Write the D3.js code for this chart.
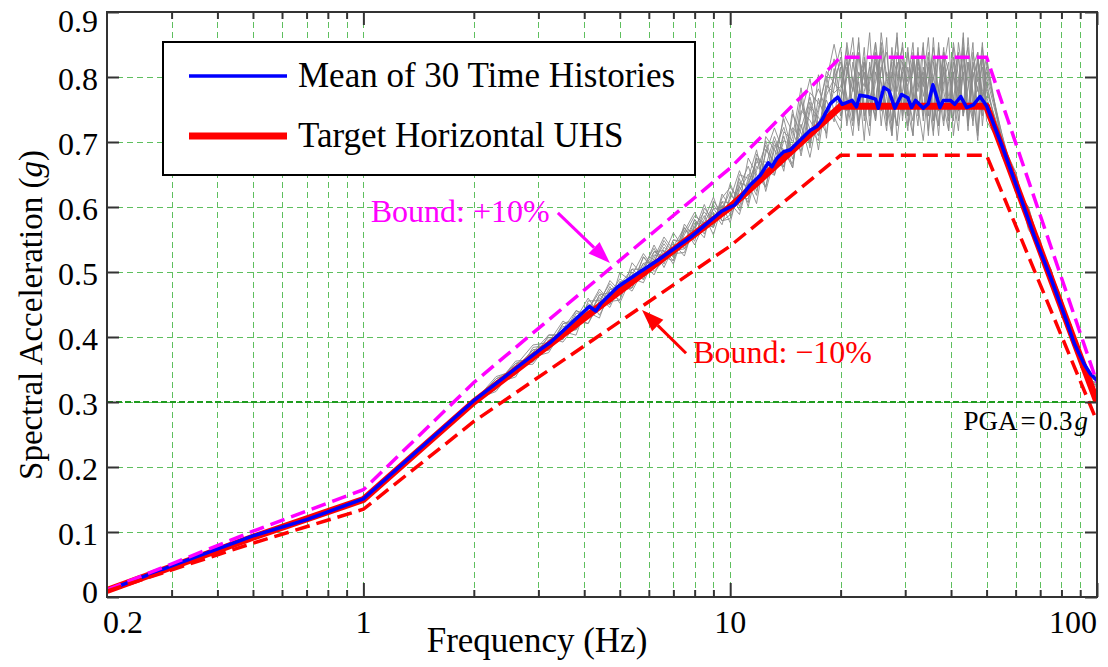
<!DOCTYPE html>
<html>
<head>
<meta charset="utf-8">
<script src="https://cdn.jsdelivr.net/npm/d3@7"></script>
<style>
  body { margin: 0; background: #fff; }
</style>
</head>
<body>
<svg id="chart" width="1108" height="667" style="font-family: 'Liberation Serif', 'DejaVu Serif', serif;"></svg>
<script>
// Target horizontal uniform hazard spectrum (frequency in Hz, spectral acceleration in g)
const targetFreq = [0.2, 0.5, 1, 2, 10, 20, 50, 100];
const targetSA   = [0.010, 0.092, 0.150, 0.300, 0.600, 0.755, 0.755, 0.300];

// Mean spectrum of the 30 spectrum-matched time histories
const meanFreq = [0.2, 0.3, 0.5, 0.7, 1, 2, 2.37, 3.04, 3.24, 4.13, 4.30, 4.45, 4.93, 5.6, 6.35, 7.5, 7.82, 9.45, 10.27,
  11.34, 12.08, 12.7, 13.0, 13.41, 13.99, 14.59, 15.53, 16.53, 17.25, 17.8, 18.76, 19.65,
  20.2, 20.84, 21.5, 22.1, 22.56, 23.64, 24.9, 25.33, 26.24, 27.07, 28.11, 29.32, 30.5, 31.22, 32.02,
  33.61, 34.69, 35.7, 37.31, 38.11, 39.91, 40.93, 42.5, 44.14, 46.04, 47.99, 50.06,
  55, 60, 67.4, 74.9, 82.2, 86.7, 92.3, 96, 100];
const meanSA = [0.010, 0.048, 0.094, 0.119, 0.151, 0.302, 0.334, 0.381, 0.392, 0.447, 0.440, 0.452, 0.477, 0.498, 0.518, 0.547, 0.554, 0.593, 0.603,
  0.634, 0.649, 0.668, 0.662, 0.675, 0.685, 0.688, 0.703, 0.718, 0.724, 0.734, 0.759, 0.769,
  0.758, 0.761, 0.764, 0.754, 0.772, 0.770, 0.766, 0.752, 0.784, 0.779, 0.752, 0.773, 0.768, 0.753, 0.764,
  0.752, 0.759, 0.788, 0.753, 0.764, 0.764, 0.758, 0.770, 0.753, 0.757, 0.770, 0.755,
  0.695, 0.636, 0.556, 0.490, 0.428, 0.390, 0.358, 0.343, 0.333];

// Frequencies at which the individual response spectra are sampled
const traceFreq = [0.2, 1, 2,
  2.3, 2.6, 2.9, 3.2, 3.5, 3.8, 4.1, 4.4, 4.7, 5.0, 5.4, 5.8, 6.2, 6.6, 7.0, 7.5, 8.0, 8.5, 9.0, 9.5,
  10, 10.6, 11.2, 11.8, 12.5, 13.2, 14, 14.8, 15.6, 16.5, 17.4, 18.3, 19.2,
  20, 20.8, 21.6, 22.4, 23.2, 24, 24.9, 25.8, 26.7, 27.6, 28.5, 29.5, 30.5, 31.5, 32.5, 33.6, 34.7, 35.8,
  37, 38.2, 39.4, 40.6, 41.9, 43.2, 44.5, 45.9, 47.3, 48.7, 50,
  55, 60, 65, 70, 75, 80, 85, 90, 95, 100];

// Individual spectra, as percent departure from the target at each sampled frequency
const traceDev = [
  [0,1,0, 2,-1,3,-2,4,1,-3,2,5,-1,3,-2,4,0,-3,2,5,1,-2,3, -2,4,1,6,-3,5,2,-4,7,3,-2,8,14,
   6,-3,9,2,12,-4,7,0,14,-6,5,10,-2,8,3,13,-5,6,1,11,-3,9,2,15,-4,7,0,10,3, 2,-2,3,1,-1,2,-2,1,3,10],
  [1,0,1, -2,3,0,-3,2,5,-1,4,-2,3,1,-3,2,6,0,-2,4,-1,3,1, 4,-3,2,-5,6,1,-2,9,-3,5,8,2,-1,
   -5,8,3,11,-2,6,13,-1,4,9,-7,3,12,0,7,-3,10,4,-6,8,14,-2,5,11,-4,6,9,-1,2, -1,3,-2,2,1,-3,2,0,4,12],
  [-1,0,0, 3,1,-2,4,-1,2,6,-3,1,4,-2,5,-1,2,-4,3,1,6,-2,2, -1,5,-4,3,7,-2,4,1,10,-3,6,-1,5,
   10,1,-6,7,4,15,-3,8,2,-5,11,6,-2,9,0,-7,5,12,3,-4,7,1,10,-2,4,13,-5,3,8, 3,-1,1,-2,2,3,-1,2,1,8],
  [0,-1,1, 1,-3,4,0,3,-2,2,5,-1,-3,4,1,6,-2,3,-1,2,-3,5,0, 6,-2,3,8,-4,2,9,-1,4,-5,3,10,6,
   3,12,-2,5,-7,9,1,11,-3,6,14,-1,4,-6,10,2,8,-3,13,0,-5,6,11,-2,9,3,-6,12,4, 0,2,-3,1,3,-1,0,2,-2,9],
  [0,0,-1, -1,2,-3,1,5,-2,3,0,4,-4,2,6,-1,3,-2,4,-3,1,4,-1, 2,7,-1,4,0,6,-3,8,2,-2,11,-4,9,
   -2,7,11,-4,3,8,-1,13,5,-3,9,2,-5,11,4,7,-2,14,-1,5,9,-6,3,12,1,-3,7,10,-2, 2,1,-1,3,-2,1,2,-1,2,11],
  [1,1,0, 4,0,2,-2,1,-4,5,2,-2,6,0,3,-3,1,5,-2,0,3,-4,2, -4,3,6,-2,5,9,1,-3,6,12,0,4,-2,
   8,-4,4,13,0,-6,10,5,-2,12,1,7,-4,3,11,-1,9,-5,4,10,2,-3,13,6,-1,8,11,-4,5, -2,1,2,-1,1,0,3,-2,3,13],
  [0,0,1, -3,2,5,1,-2,3,-1,4,2,-3,6,-1,1,4,-2,3,6,-1,2,-3, 3,-1,8,2,-3,4,7,-2,3,8,-1,6,11,
   1,10,-3,6,9,-2,5,12,-4,7,3,13,-1,-6,8,4,11,-3,2,7,-5,10,4,-1,14,2,-7,6,10, 1,-2,2,-1,0,2,-1,1,2,7],
  [-1,1,0, 2,-2,1,3,-3,0,4,-1,3,1,-2,2,5,-3,1,4,-2,5,0,3, 1,-4,2,5,3,-1,10,4,-2,6,2,-3,8,
   12,-1,6,-5,10,3,-3,8,11,0,-4,9,5,13,-2,6,-6,9,3,12,-1,7,-3,10,5,-2,11,1,7, 3,0,1,2,-2,3,1,-1,0,10],
  [0,-1,0, 0,4,-1,2,-2,4,1,-4,3,2,-1,5,-2,-1,3,0,4,-2,3,-2, -3,2,4,-1,8,0,5,-4,9,1,-3,7,4,
   4,9,-2,14,-3,5,9,2,-5,10,7,-2,11,3,-4,12,0,6,10,-3,5,12,-1,7,-5,9,3,13,0, -1,2,0,-2,3,-1,1,1,3,12],
  [1,0,0, -2,1,3,-1,4,2,-3,1,6,0,-2,3,1,5,-1,-3,2,4,-1,4, 5,0,-2,6,2,7,-1,3,12,-2,4,9,0,
   -3,6,14,1,7,-1,11,-4,7,3,15,-3,8,1,12,-2,5,10,-4,8,0,13,6,-2,9,-4,10,2,6, 2,-1,3,0,-1,2,0,-2,1,9],
  [0,1,-1, 3,-1,2,4,0,-2,2,6,-1,3,-3,1,4,2,-3,5,-1,2,6,-2, -2,6,3,-3,9,4,-2,5,1,7,-5,5,7,
   9,2,-4,10,6,-2,13,4,0,-6,8,12,2,-3,9,5,14,0,-4,11,7,2,-5,8,12,0,4,-2,9, 1,3,-2,2,1,-2,3,0,2,14],
  [0,0,0, 1,3,-2,2,-1,5,0,3,-3,2,4,-2,3,0,2,-4,3,1,-2,5, 0,3,-3,7,1,-2,6,2,-1,9,5,1,3,
   0,13,5,-3,9,1,-2,15,6,2,-4,8,4,10,-1,8,2,-6,12,3,-2,7,0,14,-3,11,5,8,-3, 0,1,1,-1,2,1,-3,2,1,11]
];

// Tolerance band around the target, percent
const boundPct = 10;
const pga = 0.3;

// Axis ticks
const yTicks = [0, 0.1, 0.2, 0.3, 0.4, 0.5, 0.6, 0.7, 0.8, 0.9];
const yTickLabels = ["0", "0.1", "0.2", "0.3", "0.4", "0.5", "0.6", "0.7", "0.8", "0.9"];
const xMajorTicks = [1, 10, 100];
const xMinorTicks = [0.3, 0.4, 0.5, 0.6, 0.7, 0.8, 0.9, 2, 3, 4, 5, 6, 7, 8, 9, 20, 30, 40, 50, 60, 70, 80, 90];
const xTickValues = [0.2, 1, 10, 100];
const xTickLabels = ["0.2", "1", "10", "100"];

const FONT = "'Liberation Serif', 'DejaVu Serif', serif";
const svg = d3.select("#chart");
const L = 107, R = 1097, T = 12, B = 597;
const x = d3.scaleLog().domain([0.2, 100]).range([L, R]);
const y = d3.scaleLinear().domain([0, 0.9]).range([B, T]);

// --- grid ---
const grid = svg.append("g");
grid.selectAll("line.vg").data(xMinorTicks.concat([1, 10])).join("line")
  .attr("x1", d => Math.round(x(d)) + 0.5).attr("x2", d => Math.round(x(d)) + 0.5)
  .attr("y1", T).attr("y2", B)
  .attr("stroke", "#5fbf5f").attr("stroke-width", 1).attr("stroke-dasharray", "6,4");
grid.selectAll("line.hg").data(yTicks.filter(v => v > 0 && v < 0.9)).join("line")
  .attr("x1", L).attr("x2", R)
  .attr("y1", d => Math.round(y(d)) + 0.5).attr("y2", d => Math.round(y(d)) + 0.5)
  .attr("stroke", "#5fbf5f").attr("stroke-width", 1).attr("stroke-dasharray", "6,4");

// PGA reference line
svg.append("line")
  .attr("x1", L).attr("x2", R).attr("y1", y(pga)).attr("y2", y(pga))
  .attr("stroke", "#1f9b1f").attr("stroke-width", 2).attr("stroke-dasharray", "6,3");

const line = d3.line().x(d => x(d[0])).y(d => y(d[1]));
const targetPts = targetFreq.map((f, i) => [f, targetSA[i]]);

// interpolate the target (linear in log-frequency)
function targetAt(f) {
  for (let i = 0; i < targetFreq.length - 1; i++) {
    const f0 = targetFreq[i], f1 = targetFreq[i + 1];
    if (f >= f0 && f <= f1) {
      const t = Math.log(f / f0) / Math.log(f1 / f0);
      return targetSA[i] + t * (targetSA[i + 1] - targetSA[i]);
    }
  }
  return targetSA[targetSA.length - 1];
}

// --- individual spectra ---
svg.append("clipPath").attr("id", "plotclip")
  .append("rect").attr("x", L).attr("y", T).attr("width", R - L).attr("height", B - T);
const plot = svg.append("g").attr("clip-path", "url(#plotclip)");

plot.append("g").selectAll("path").data(traceDev).join("path")
  .attr("d", dev => line(traceFreq.map((f, i) => [f, targetAt(f) * (1 + dev[i] / 100)])))
  .attr("fill", "none").attr("stroke", "#8a8a8a").attr("stroke-width", 0.9);

// target spectrum
plot.append("path").attr("d", line(targetPts))
  .attr("fill", "none").attr("stroke", "#ff0000").attr("stroke-width", 7).attr("stroke-linejoin", "round");

// mean spectrum
plot.append("path").attr("d", line(meanFreq.map((f, i) => [f, meanSA[i]])))
  .attr("fill", "none").attr("stroke", "#0000ff").attr("stroke-width", 3.5).attr("stroke-linejoin", "round");

// +/- bounds
plot.append("path").attr("d", line(targetPts.map(d => [d[0], d[1] * (1 + boundPct / 100)])))
  .attr("fill", "none").attr("stroke", "#ff00ff").attr("stroke-width", 3.5).attr("stroke-dasharray", "15,7");
plot.append("path").attr("d", line(targetPts.map(d => [d[0], d[1] * (1 - boundPct / 100)])))
  .attr("fill", "none").attr("stroke", "#ff0000").attr("stroke-width", 3.5).attr("stroke-dasharray", "15,7");

// --- axes (ticks pointing inward on all four sides) ---
function styleAxis(g) {
  g.select(".domain").remove();
  g.selectAll(".tick line").attr("stroke", "#333").attr("stroke-width", 2);
  g.selectAll(".tick text").remove();
}
svg.append("g").attr("transform", `translate(0,${B})`)
  .call(d3.axisBottom(x).tickValues(xMinorTicks).tickSize(-7).tickFormat("")).call(styleAxis);
svg.append("g").attr("transform", `translate(0,${B})`)
  .call(d3.axisBottom(x).tickValues(xMajorTicks).tickSize(-14).tickFormat("")).call(styleAxis);
svg.append("g").attr("transform", `translate(0,${T})`)
  .call(d3.axisTop(x).tickValues(xMinorTicks).tickSize(-7).tickFormat("")).call(styleAxis);
svg.append("g").attr("transform", `translate(0,${T})`)
  .call(d3.axisTop(x).tickValues(xMajorTicks).tickSize(-13).tickFormat("")).call(styleAxis);
svg.append("g").attr("transform", `translate(${L},0)`)
  .call(d3.axisLeft(y).tickValues(yTicks).tickSize(-12).tickFormat("")).call(styleAxis);
svg.append("g").attr("transform", `translate(${R},0)`)
  .call(d3.axisRight(y).tickValues(yTicks).tickSize(-12).tickFormat("")).call(styleAxis);

svg.append("rect").attr("x", L).attr("y", T).attr("width", R - L).attr("height", B - T)
  .attr("fill", "none").attr("stroke", "#333").attr("stroke-width", 2);

// all text in one serif family
const texts = svg.append("g").attr("font-family", FONT).attr("fill", "#000");

// tick labels
texts.append("g").selectAll("text").data(yTicks).join("text")
  .attr("x", 98)
  .attr("y", (d, i) => y(d) + (i === yTicks.length - 1 ? 20 : i === 0 ? 6 : 13))
  .attr("text-anchor", "end").attr("font-size", 32)
  .text((d, i) => yTickLabels[i]);

texts.append("g").selectAll("text").data(xTickValues).join("text")
  .attr("x", (d, i) => i === 0 ? x(d) - 4 : x(d))
  .attr("y", 633)
  .attr("text-anchor", (d, i) => i === 0 ? "start" : i === xTickValues.length - 1 ? "end" : "middle")
  .attr("font-size", 32)
  .text((d, i) => xTickLabels[i]);

// axis titles
texts.append("text").attr("x", 537).attr("y", 652).attr("text-anchor", "middle")
  .attr("font-size", 35).text("Frequency (Hz)");
const yl = texts.append("text").attr("transform", "translate(42,315) rotate(-90)")
  .attr("text-anchor", "middle").attr("font-size", 33);
yl.append("tspan").text("Spectral Acceleration (");
yl.append("tspan").attr("font-style", "italic").text("g");
yl.append("tspan").text(")");

// --- legend ---
const lg = svg.append("g");
lg.append("rect").attr("x", 163).attr("y", 42).attr("width", 532).attr("height", 133)
  .attr("fill", "#fff").attr("stroke", "#000").attr("stroke-width", 2);
const legendItems = [
  { label: "Mean of 30 Time Histories", color: "#0000ff", width: 3.5, y: 76 },
  { label: "Target Horizontal UHS", color: "#ff0000", width: 7, y: 136 }
];
legendItems.forEach(it => {
  lg.append("line").attr("x1", 189).attr("x2", 287).attr("y1", it.y).attr("y2", it.y)
    .attr("stroke", it.color).attr("stroke-width", it.width);
  lg.append("text").attr("x", 298).attr("y", it.y + 11).attr("font-family", FONT)
    .attr("font-size", 35).attr("fill", "#000").text(it.label);
});

// --- annotations ---
function arrow(f0, v0, f1, v1, color) {
  const x0 = x(f0), y0 = y(v0), x1 = x(f1), y1 = y(v1);
  const a = Math.atan2(y1 - y0, x1 - x0);
  const hl = 22, hw = 8;
  const bx = x1 - hl * Math.cos(a), by = y1 - hl * Math.sin(a);
  svg.append("line").attr("x1", x0).attr("y1", y0).attr("x2", bx).attr("y2", by)
    .attr("stroke", color).attr("stroke-width", 3);
  svg.append("path")
    .attr("d", `M${x1},${y1}L${bx + hw * Math.sin(a)},${by - hw * Math.cos(a)}L${bx - hw * Math.sin(a)},${by + hw * Math.cos(a)}Z`)
    .attr("fill", color);
}
texts.append("text").attr("x", x(1.047)).attr("y", y(0.577)).attr("font-size", 32)
  .attr("fill", "#ff00ff").text("Bound: +10%");
arrow(3.39, 0.591, 4.70, 0.514, "#ff00ff");
texts.append("text").attr("x", x(7.92)).attr("y", y(0.3605)).attr("font-size", 32)
  .attr("fill", "#ff0000").text("Bound: \u221210%");
arrow(7.58, 0.375, 5.75, 0.4415, "#ff0000");

const pl = texts.append("text").attr("x", x(94.5)).attr("y", y(0.257))
  .attr("text-anchor", "end").attr("font-size", 27);
pl.append("tspan").text("PGA");
pl.append("tspan").attr("dx", 3).text("=");
pl.append("tspan").attr("dx", 3).text("0.3");
pl.append("tspan").attr("dx", 2).attr("font-style", "italic").text("g");
</script>
</body>
</html>
